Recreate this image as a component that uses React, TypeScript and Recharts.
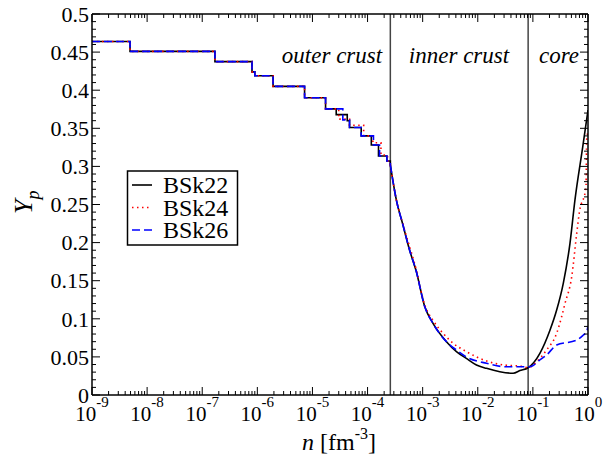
import { LineChart, Line, XAxis, YAxis, ReferenceLine } from "recharts";

// outer crust: step profiles (n in fm^-3, Yp)
const BSK22_CRUST_N = [1e-9, 4.9e-9, 1.7e-7, 8.0e-7, 9.0e-7, 1.93e-6, 7.2e-6, 1.73e-5, 2.7e-5, 4.28e-5, 4.71e-5, 7.67e-5, 1.17e-4, 1.58e-4, 2.24e-4, 2.59e-4];
const BSK22_CRUST_Y = [0.464, 0.451, 0.4375, 0.424, 0.419, 0.405, 0.390, 0.3755, 0.368, 0.360, 0.351, 0.340, 0.328, 0.3136, 0.307, 0.302];

const BSK24_CRUST_N = [1e-9, 4.9e-9, 1.7e-7, 8.0e-7, 9.0e-7, 1.93e-6, 7.2e-6, 1.73e-5, 3.0e-5, 4.7e-5, 8.5e-5, 1.25e-4, 1.75e-4, 2.3e-4, 2.59e-4];
const BSK24_CRUST_Y = [0.464, 0.451, 0.4375, 0.424, 0.419, 0.405, 0.390, 0.3755, 0.362, 0.354, 0.340, 0.331, 0.315, 0.307, 0.302];

const BSK26_CRUST_N = [1e-9, 4.9e-9, 1.7e-7, 8.0e-7, 9.0e-7, 1.93e-6, 7.2e-6, 1.73e-5, 3.56e-5, 4.71e-5, 7.67e-5, 1.28e-4, 1.65e-4, 2.24e-4, 2.59e-4];
const BSK26_CRUST_Y = [0.464, 0.451, 0.4375, 0.424, 0.419, 0.405, 0.390, 0.3755, 0.361, 0.351, 0.340, 0.328, 0.3136, 0.307, 0.302];

// inner crust + core
const BSK22_N = [2.59e-4, 3.33e-4, 4.39e-4, 5.8e-4, 7.67e-4, 1.09e-3, 1.54e-3, 2.7e-3, 4.1e-3, 6.2e-3, 9.46e-3, 1.44e-2, 2.51e-2, 4.39e-2, 5.8e-2, 8.2e-2, 0.134, 0.204, 0.27, 0.356, 0.471, 0.58, 0.8, 1.0];
const BSK22_Y = [0.302, 0.256, 0.223, 0.19, 0.162, 0.116, 0.094, 0.07, 0.057, 0.048, 0.0394, 0.035, 0.0306, 0.0285, 0.032, 0.0358, 0.0547, 0.085, 0.1115, 0.1466, 0.199, 0.256, 0.325, 0.374];

const BSK24_N = [2.59e-4, 3.33e-4, 4.39e-4, 7.67e-4, 1.09e-3, 1.54e-3, 2.34e-3, 3.56e-3, 6.2e-3, 1.44e-2, 3.33e-2, 5.8e-2, 8.2e-2, 0.117, 0.177, 0.27, 0.333, 0.382, 0.506, 0.624, 0.695, 0.92, 0.946, 1.0];
const BSK24_Y = [0.302, 0.256, 0.224, 0.164, 0.118, 0.098, 0.081, 0.068, 0.057, 0.0446, 0.039, 0.038, 0.036, 0.0437, 0.059, 0.081, 0.103, 0.12, 0.155, 0.212, 0.239, 0.273, 0.335, 0.345];

const BSK26_N = [2.59e-4, 3.33e-4, 4.39e-4, 5.8e-4, 7.67e-4, 1.09e-3, 1.54e-3, 2.7e-3, 4.1e-3, 6.2e-3, 1.44e-2, 3.33e-2, 6.5e-2, 8.8e-2, 0.134, 0.177, 0.27, 0.624, 0.822, 0.946, 1.0];
const BSK26_Y = [0.302, 0.256, 0.223, 0.19, 0.162, 0.116, 0.094, 0.07, 0.059, 0.05, 0.0416, 0.037, 0.037, 0.037, 0.046, 0.0525, 0.0656, 0.072, 0.0787, 0.083, 0.0906];

const DRIP_N = 2.59e-4;
const CORE_N = 8.2e-2;

const X_DECADES = [1e-9, 1e-8, 1e-7, 1e-6, 1e-5, 1e-4, 1e-3, 1e-2, 1e-1, 1];
const X_EXPONENTS = ["-9", "-8", "-7", "-6", "-5", "-4", "-3", "-2", "-1", "0"];
const Y_MAJOR = [0, 0.05, 0.1, 0.15, 0.2, 0.25, 0.3, 0.35, 0.4, 0.45, 0.5];
const Y_LABELS = ["0", "0.05", "0.1", "0.15", "0.2", "0.25", "0.3", "0.35", "0.4", "0.45", "0.5"];

const REGIONS = ["outer crust", "inner crust", "core"];

const SERIES = [
  { name: "BSk22", color: "#000000", dash: undefined as string | undefined, crustN: BSK22_CRUST_N, crustY: BSK22_CRUST_Y, n: BSK22_N, y: BSK22_Y },
  { name: "BSk24", color: "#ff0000", dash: "1.5 3.5", crustN: BSK24_CRUST_N, crustY: BSK24_CRUST_Y, n: BSK24_N, y: BSK24_Y },
  { name: "BSk26", color: "#0000ff", dash: "8 4", crustN: BSK26_CRUST_N, crustY: BSK26_CRUST_Y, n: BSK26_N, y: BSK26_Y },
];

const zip = (ns: number[], ys: number[]) => ns.map((n, i) => ({ n, y: ys[i] }));

// minor ticks: 2..9 x each decade, 0.01 steps on y
const X_TICKS: number[] = [];
X_DECADES.forEach((d, i) => {
  X_TICKS.push(d);
  if (i < X_DECADES.length - 1) for (let k = 2; k < 10; k++) X_TICKS.push(d * k);
});
const Y_TICKS: number[] = [];
for (let i = 0; i <= 50; i++) Y_TICKS.push(i / 100);

const FONT = '"Liberation Serif", "Times New Roman", Times, serif';
const SERIF = { fontFamily: FONT };

const decadeIndex = (v: number) => X_DECADES.findIndex((d) => Math.abs(Math.log10(v) - Math.log10(d)) < 1e-6);
const yIndex = (v: number) => Y_MAJOR.findIndex((m) => Math.abs(m - v) < 1e-6);

function BottomTick(props: any) {
  const { x, y, payload } = props;
  const i = decadeIndex(payload.value);
  return (
    <g>
      <line x1={x} x2={x} y1={y} y2={y - (i >= 0 ? 8 : 4)} stroke="#000" strokeWidth={1} />
      {i >= 0 && (
        <text x={x} y={y + 26} textAnchor="middle" fontSize={21} style={SERIF} fill="#000">
          10<tspan dy={-14} fontSize={15}>{X_EXPONENTS[i]}</tspan>
        </text>
      )}
    </g>
  );
}

function TopTick(props: any) {
  const { x, y, payload } = props;
  const i = decadeIndex(payload.value);
  return <line x1={x} x2={x} y1={y} y2={y + (i >= 0 ? 8 : 4)} stroke="#000" strokeWidth={1} />;
}

function LeftTick(props: any) {
  const { x, y, payload } = props;
  const i = yIndex(payload.value);
  return (
    <g>
      <line x1={x} x2={x + (i >= 0 ? 8 : 4)} y1={y} y2={y} stroke="#000" strokeWidth={1} />
      {i >= 0 && (
        <text x={x - 3} y={y} dy="0.35em" textAnchor="end" fontSize={22} style={SERIF} fill="#000">
          {Y_LABELS[i]}
        </text>
      )}
    </g>
  );
}

function RightTick(props: any) {
  const { x, y, payload } = props;
  const i = yIndex(payload.value);
  return <line x1={x} x2={x - (i >= 0 ? 8 : 4)} y1={y} y2={y} stroke="#000" strokeWidth={1} />;
}

const AXIS_LINE = { stroke: "#000", strokeWidth: 1.5 };

export default function App() {
  return (
    <div style={{ position: "relative", width: 613, height: 459, background: "#fff" }}>
      <style>{"body{margin:0}"}</style>
      <LineChart width={613} height={459} margin={{ top: 0, right: 0, bottom: 0, left: 0 }}>
        <XAxis xAxisId="b" type="number" dataKey="n" scale="log" domain={[1e-9, 1]} allowDataOverflow
          ticks={X_TICKS} interval={0} tickSize={0} tickMargin={0} height={64}
          axisLine={AXIS_LINE} tickLine={false} tick={(p: any) => <BottomTick {...p} />} />
        <XAxis xAxisId="t" orientation="top" type="number" dataKey="n" scale="log" domain={[1e-9, 1]} allowDataOverflow
          ticks={X_TICKS} interval={0} tickSize={0} tickMargin={0} height={14}
          axisLine={AXIS_LINE} tickLine={false} tick={(p: any) => <TopTick {...p} />} />
        <YAxis yAxisId="l" type="number" domain={[0, 0.5]} allowDataOverflow ticks={Y_TICKS} interval={0}
          tickSize={0} tickMargin={0} width={92} axisLine={AXIS_LINE} tickLine={false}
          tick={(p: any) => <LeftTick {...p} />} />
        <YAxis yAxisId="r" orientation="right" type="number" domain={[0, 0.5]} allowDataOverflow ticks={Y_TICKS} interval={0}
          tickSize={0} tickMargin={0} width={25} axisLine={AXIS_LINE} tickLine={false}
          tick={(p: any) => <RightTick {...p} />} />
        <ReferenceLine xAxisId="b" yAxisId="l" x={DRIP_N} stroke="#444" strokeWidth={1.5} />
        <ReferenceLine xAxisId="b" yAxisId="l" x={CORE_N} stroke="#444" strokeWidth={1.5} />
        {SERIES.map((s) => (
          <Line key={s.name + "-crust"} xAxisId="b" yAxisId="l" data={zip(s.crustN, s.crustY)} dataKey="y"
            type="stepAfter" stroke={s.color} strokeWidth={1.6} strokeDasharray={s.dash}
            dot={false} activeDot={false} isAnimationActive={false} />
        ))}
        {SERIES.map((s) => (
          <Line key={s.name} xAxisId="b" yAxisId="l" data={zip(s.n, s.y)} dataKey="y"
            type="monotone" stroke={s.color} strokeWidth={1.6} strokeDasharray={s.dash}
            dot={false} activeDot={false} isAnimationActive={false} />
        ))}
      </LineChart>

      <svg width={613} height={459} style={{ position: "absolute", left: 0, top: 0, pointerEvents: "none", ...SERIF }}>
        <text x={332} y={63} textAnchor="middle" fontSize={23} fontStyle="italic" style={SERIF}>{REGIONS[0]}</text>
        <text x={459} y={63} textAnchor="middle" fontSize={23} fontStyle="italic" style={SERIF}>{REGIONS[1]}</text>
        <text x={559} y={63} textAnchor="middle" fontSize={23} fontStyle="italic" style={SERIF}>{REGIONS[2]}</text>

        <text transform="translate(32,214) rotate(-90)" fontSize={26} style={SERIF}>
          <tspan fontStyle="italic">Y</tspan>
          <tspan fontStyle="italic" fontSize={18} dy={7}>p</tspan>
        </text>

        <text x={302} y={450} fontSize={24} style={SERIF}>
          <tspan fontStyle="italic">n</tspan> [fm<tspan fontSize={16} dy={-11}>-3</tspan><tspan dy={11}>]</tspan>
        </text>

        <rect x={127.5} y={171} width={110} height={74} fill="#fff" stroke="#000" strokeWidth={1.5} />
        {SERIES.map((s, i) => (
          <g key={s.name}>
            <line x1={132} x2={152} y1={185 + i * 22.5} y2={185 + i * 22.5} stroke={s.color} strokeWidth={1.6}
              strokeDasharray={s.dash} />
            <text x={163} y={185 + i * 22.5} dy="0.35em" fontSize={24} style={SERIF}>{s.name}</text>
          </g>
        ))}
      </svg>
    </div>
  );
}
